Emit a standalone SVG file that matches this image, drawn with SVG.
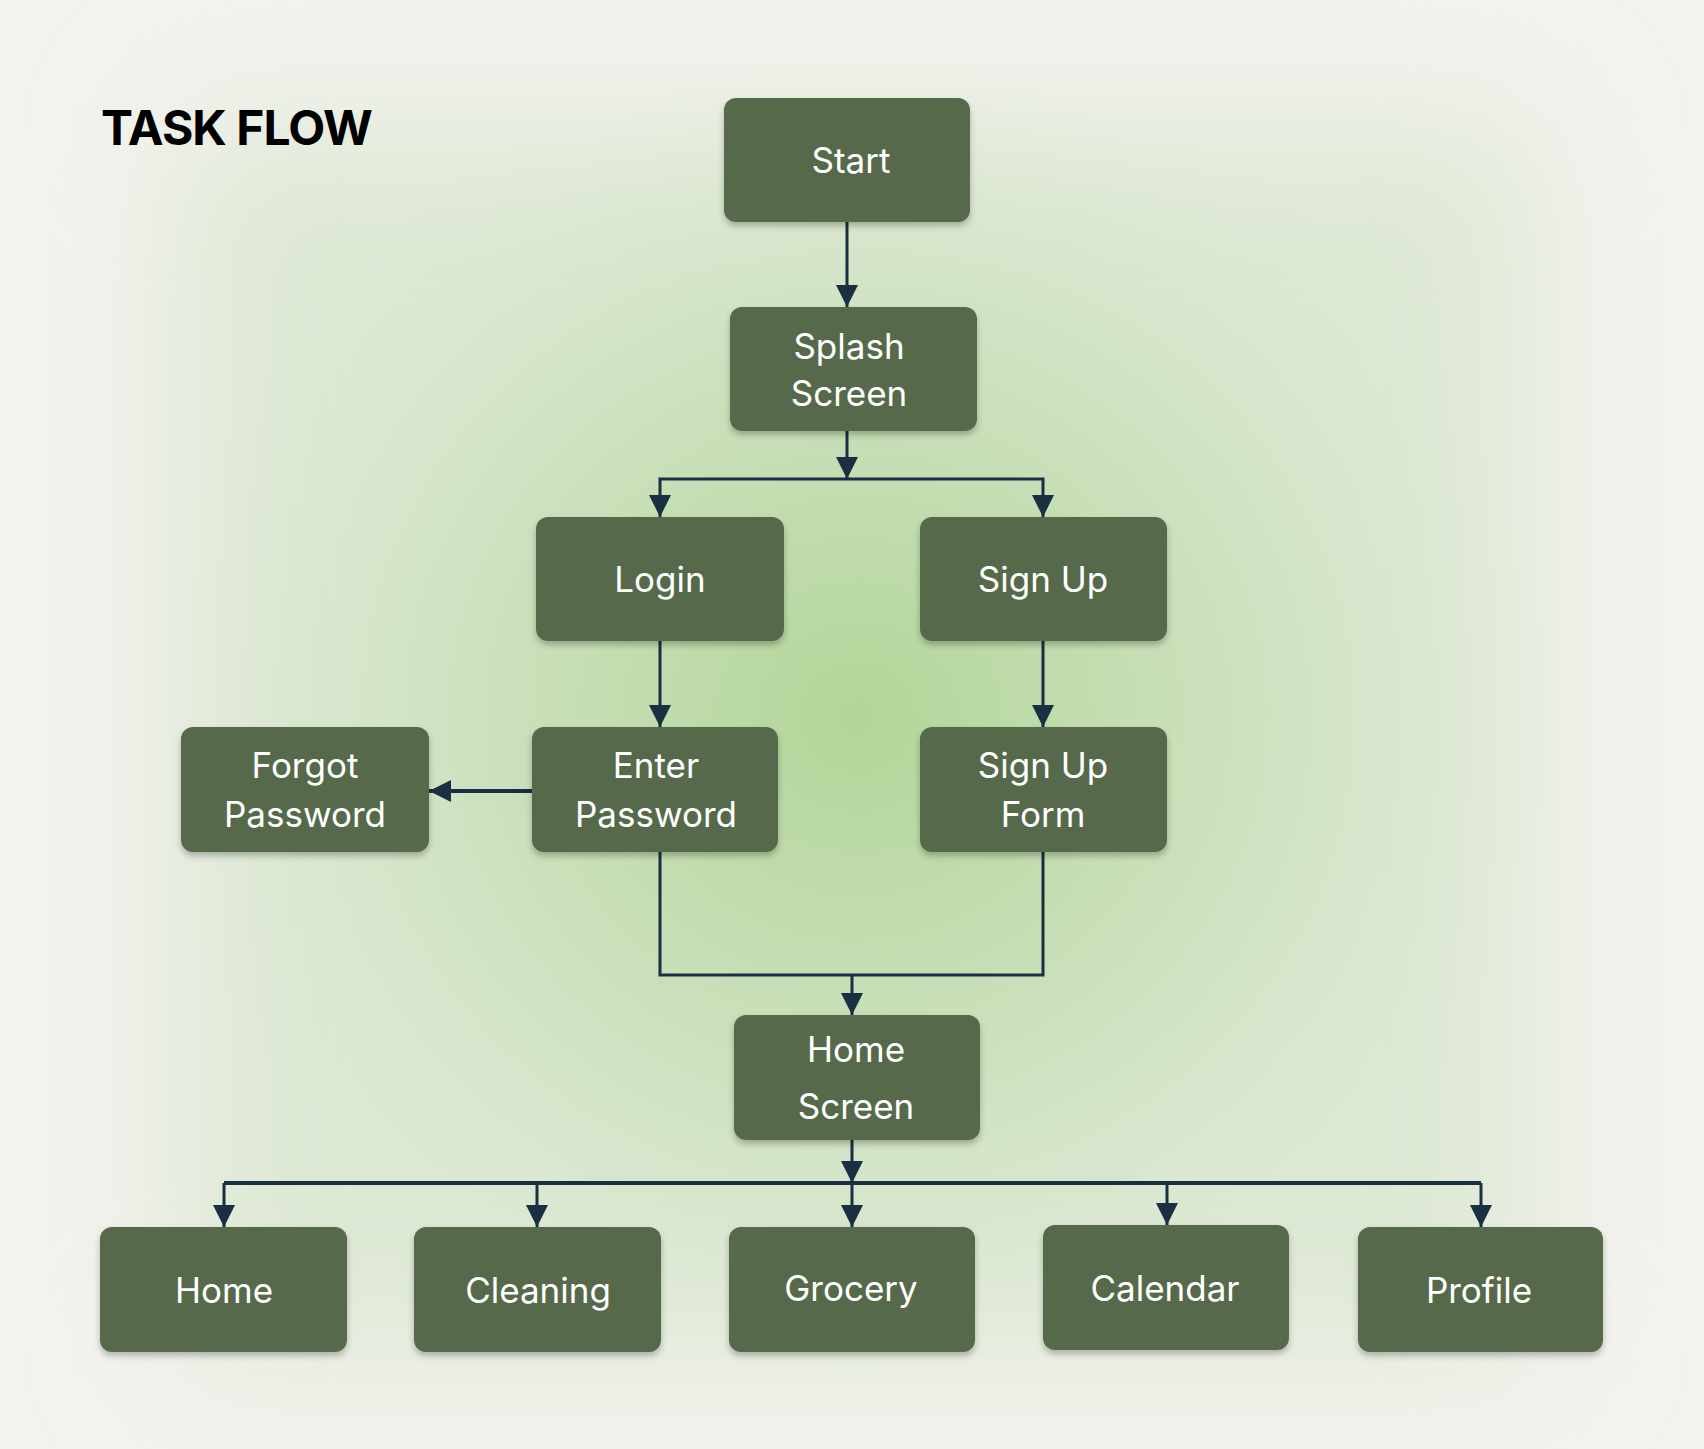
<svg xmlns="http://www.w3.org/2000/svg" width="1704" height="1449" viewBox="0 0 1704 1449">
<defs>
<style>
.node rect{fill:#566B4B;filter:url(#sh)}
.node text{fill:#FFFFFF;font-family:Inter,"Noto Sans","Liberation Sans",sans-serif;font-size:35px;text-anchor:middle}
.c{fill:none;stroke:#1B2F42;stroke-width:3}
.t{stroke-width:4}
.title{font-family:Inter,"Liberation Sans",sans-serif;font-weight:700;font-size:48px;fill:#000;letter-spacing:-1px}
</style>
<filter id="sh" x="-10%" y="-10%" width="120%" height="130%">
<feDropShadow dx="0" dy="4" stdDeviation="3" flood-color="#000" flood-opacity="0.25"/>
</filter>
<filter id="blur" x="-20%" y="-20%" width="140%" height="140%">
<feGaussianBlur stdDeviation="70"/>
</filter>
<radialGradient id="g" cx="858" cy="717" r="700" gradientUnits="userSpaceOnUse" gradientTransform="translate(858 717) scale(1 0.95) translate(-858 -717)">
<stop offset="0" stop-color="#B1D597"/>
<stop offset="0.55" stop-color="#C8DFB8" stop-opacity="0.8"/>
<stop offset="1" stop-color="#DDE8D4" stop-opacity="0"/>
</radialGradient>
<marker id="a" markerUnits="userSpaceOnUse" markerWidth="22" markerHeight="22" viewBox="0 0 22 22" refX="22" refY="11" orient="auto">
<path d="M0,0 L22,11 L0,22 z" fill="#1B2F42"/>
</marker>
</defs>
<rect width="1704" height="1449" fill="#F3F2EE"/>
<rect x="180" y="130" width="1350" height="1220" fill="#DDE8D3" filter="url(#blur)"/>
<rect width="1704" height="1449" fill="url(#g)"/>
<text class="title" x="101" y="145">TASK FLOW</text>
<g id="connectors">
<path class="c" d="M847,222 V307" marker-end="url(#a)"/>
<path class="c" d="M847,431 V479" marker-end="url(#a)"/>
<path class="c" d="M847,479 H660 V517" marker-end="url(#a)"/>
<path class="c" d="M847,479 H1043 V517" marker-end="url(#a)"/>
<path class="c" d="M660,641 V727" marker-end="url(#a)"/>
<path class="c" d="M1043,641 V727" marker-end="url(#a)"/>
<path class="c t" d="M532,791 H429" marker-end="url(#a)"/>
<path class="c" d="M660,852 V975 H1043 V852"/>
<path class="c" d="M852,975 V1015" marker-end="url(#a)"/>
<path class="c" d="M852,1140 V1183" marker-end="url(#a)"/>
<path class="c t" d="M224,1183 H1481"/>
<path class="c" d="M224,1183 V1227" marker-end="url(#a)"/>
<path class="c" d="M537,1183 V1227" marker-end="url(#a)"/>
<path class="c" d="M852,1183 V1227" marker-end="url(#a)"/>
<path class="c" d="M1167,1183 V1225" marker-end="url(#a)"/>
<path class="c" d="M1481,1183 V1227" marker-end="url(#a)"/>
</g>
<g id="start" class="node"><rect x="724" y="98" width="246" height="124" rx="12"/><text x="851" y="173">Start</text></g>
<g id="splash" class="node"><rect x="730" y="307" width="247" height="124" rx="12"/><text x="849" y="359">Splash</text><text x="849" y="406">Screen</text></g>
<g id="login" class="node"><rect x="536" y="517" width="248" height="124" rx="12"/><text x="660" y="592">Login</text></g>
<g id="signup" class="node"><rect x="920" y="517" width="247" height="124" rx="12"/><text x="1043" y="592">Sign Up</text></g>
<g id="forgot" class="node"><rect x="181" y="727" width="248" height="125" rx="12"/><text x="305" y="778">Forgot</text><text x="305" y="827">Password</text></g>
<g id="enter" class="node"><rect x="532" y="727" width="246" height="125" rx="12"/><text x="656" y="778">Enter</text><text x="656" y="827">Password</text></g>
<g id="signupform" class="node"><rect x="920" y="727" width="247" height="125" rx="12"/><text x="1043" y="778">Sign Up</text><text x="1043" y="827">Form</text></g>
<g id="homescreen" class="node"><rect x="734" y="1015" width="246" height="125" rx="12"/><text x="856" y="1062">Home</text><text x="856" y="1119">Screen</text></g>
<g id="home" class="node"><rect x="100" y="1227" width="247" height="125" rx="12"/><text x="224" y="1303">Home</text></g>
<g id="cleaning" class="node"><rect x="414" y="1227" width="247" height="125" rx="12"/><text x="538" y="1303">Cleaning</text></g>
<g id="grocery" class="node"><rect x="729" y="1227" width="246" height="125" rx="12"/><text x="851" y="1301">Grocery</text></g>
<g id="calendar" class="node"><rect x="1043" y="1225" width="246" height="125" rx="12"/><text x="1165" y="1301">Calendar</text></g>
<g id="profile" class="node"><rect x="1358" y="1227" width="245" height="125" rx="12"/><text x="1479" y="1303">Profile</text></g>
</svg>
